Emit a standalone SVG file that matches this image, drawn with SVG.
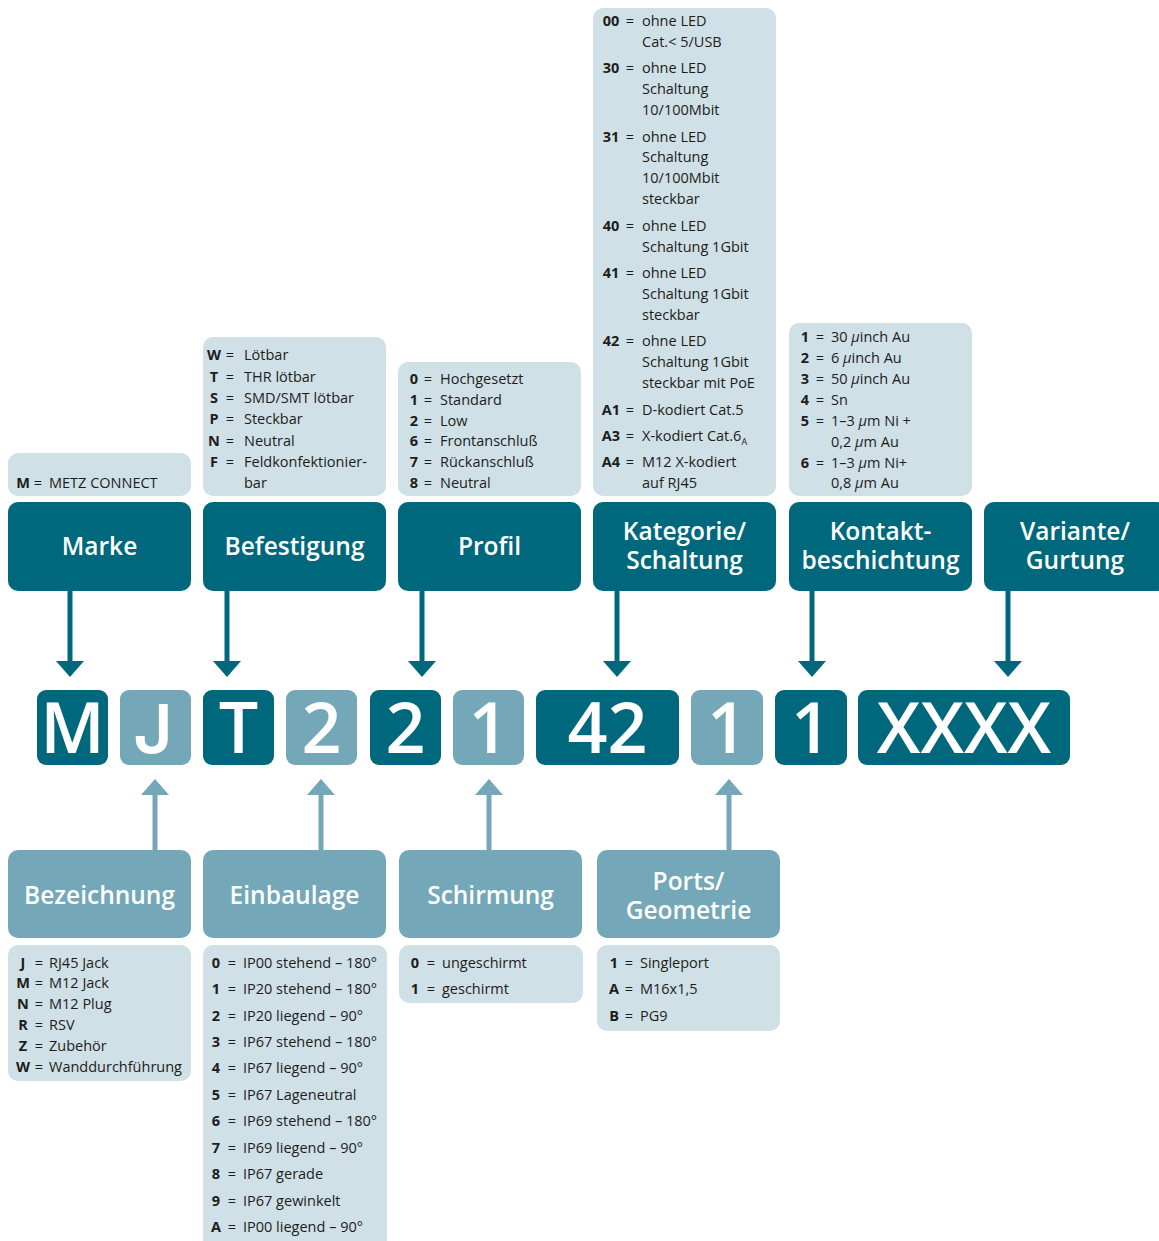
<svg xmlns="http://www.w3.org/2000/svg" width="1159" height="1241" viewBox="0 0 1159 1241">
<defs>
<style>
.dk{fill:#00687c}
.lt{fill:#74a7b8}
.bg{fill:#cfe0e6}
.hd{font-family:"Open Sans","Noto Sans",sans-serif;font-weight:600;font-size:24.5px;fill:#fff;text-anchor:middle}
.cd{font-family:"Open Sans","Noto Sans",sans-serif;font-weight:600;font-size:70px;fill:#fff;text-anchor:middle}
.t{font-family:"Open Sans","Noto Sans",sans-serif;font-size:14.5px;fill:#1d1d1b}
.k{font-weight:700;text-anchor:middle}
.e{text-anchor:middle}
.ad{stroke:#00687c;stroke-width:5;fill:none}
.al{stroke:#74a7b8;stroke-width:5;fill:none}
.i{font-style:italic}
</style>
</defs>
<rect width="1159" height="1241" fill="#fff"/>

<g id="connectors">
<line class="ad" x1="70" y1="591" x2="70" y2="664"/><polygon class="dk" points="56,661 84,661 70,677"/>
<line class="ad" x1="227" y1="591" x2="227" y2="664"/><polygon class="dk" points="213,661 241,661 227,677"/>
<line class="ad" x1="422" y1="591" x2="422" y2="664"/><polygon class="dk" points="408,661 436,661 422,677"/>
<line class="ad" x1="617" y1="591" x2="617" y2="664"/><polygon class="dk" points="603,661 631,661 617,677"/>
<line class="ad" x1="812" y1="591" x2="812" y2="664"/><polygon class="dk" points="798,661 826,661 812,677"/>
<line class="ad" x1="1008" y1="591" x2="1008" y2="664"/><polygon class="dk" points="994,661 1022,661 1008,677"/>
<line class="al" x1="155" y1="850" x2="155" y2="792"/><polygon class="lt" points="141,795 169,795 155,779"/>
<line class="al" x1="321" y1="850" x2="321" y2="792"/><polygon class="lt" points="307,795 335,795 321,779"/>
<line class="al" x1="489" y1="850" x2="489" y2="792"/><polygon class="lt" points="475,795 503,795 489,779"/>
<line class="al" x1="729" y1="850" x2="729" y2="792"/><polygon class="lt" points="715,795 743,795 729,779"/>
</g>

<g id="marke">
<rect class="bg" x="8" y="453" width="183" height="43" rx="10"/>
<text class="t" y="488"><tspan class="k" x="23">M</tspan><tspan class="e" x="38">=</tspan><tspan x="49">METZ CONNECT</tspan></text>
<rect class="dk" x="8" y="502" width="183" height="89" rx="10"/>
<text class="hd" x="99.5" y="555">Marke</text>
</g>

<g id="befestigung">
<rect class="bg" x="203" y="337" width="183" height="159" rx="10"/>
<g class="t">
<text y="360"><tspan class="k" x="214">W</tspan><tspan class="e" x="230">=</tspan><tspan x="244">Lötbar</tspan></text>
<text y="382"><tspan class="k" x="214">T</tspan><tspan class="e" x="230">=</tspan><tspan x="244">THR lötbar</tspan></text>
<text y="403"><tspan class="k" x="214">S</tspan><tspan class="e" x="230">=</tspan><tspan x="244">SMD/SMT lötbar</tspan></text>
<text y="424"><tspan class="k" x="214">P</tspan><tspan class="e" x="230">=</tspan><tspan x="244">Steckbar</tspan></text>
<text y="446"><tspan class="k" x="214">N</tspan><tspan class="e" x="230">=</tspan><tspan x="244">Neutral</tspan></text>
<text y="467"><tspan class="k" x="214">F</tspan><tspan class="e" x="230">=</tspan><tspan x="244">Feldkonfektionier-</tspan></text>
<text y="488"><tspan x="244">bar</tspan></text>
</g>
<rect class="dk" x="203" y="502" width="183" height="89" rx="10"/>
<text class="hd" x="294.5" y="555">Befestigung</text>
</g>

<g id="profil">
<rect class="bg" x="398" y="362" width="183" height="134" rx="10"/>
<g class="t">
<text y="384"><tspan class="k" x="414">0</tspan><tspan class="e" x="428">=</tspan><tspan x="440">Hochgesetzt</tspan></text>
<text y="405"><tspan class="k" x="414">1</tspan><tspan class="e" x="428">=</tspan><tspan x="440">Standard</tspan></text>
<text y="426"><tspan class="k" x="414">2</tspan><tspan class="e" x="428">=</tspan><tspan x="440">Low</tspan></text>
<text y="446"><tspan class="k" x="414">6</tspan><tspan class="e" x="428">=</tspan><tspan x="440">Frontanschluß</tspan></text>
<text y="467"><tspan class="k" x="414">7</tspan><tspan class="e" x="428">=</tspan><tspan x="440">Rückanschluß</tspan></text>
<text y="488"><tspan class="k" x="414">8</tspan><tspan class="e" x="428">=</tspan><tspan x="440">Neutral</tspan></text>
</g>
<rect class="dk" x="398" y="502" width="183" height="89" rx="10"/>
<text class="hd" x="489.5" y="555">Profil</text>
</g>

<g id="kategorie">
<rect class="bg" x="593" y="8" width="183" height="488" rx="10"/>
<g class="t">
<text y="26"><tspan class="k" x="611">00</tspan><tspan class="e" x="630">=</tspan><tspan x="642">ohne LED</tspan></text>
<text y="47"><tspan x="642">Cat.&lt; 5/USB</tspan></text>
<text y="73"><tspan class="k" x="611">30</tspan><tspan class="e" x="630">=</tspan><tspan x="642">ohne LED</tspan></text>
<text y="94"><tspan x="642">Schaltung</tspan></text>
<text y="115"><tspan x="642">10/100Mbit</tspan></text>
<text y="142"><tspan class="k" x="611">31</tspan><tspan class="e" x="630">=</tspan><tspan x="642">ohne LED</tspan></text>
<text y="162"><tspan x="642">Schaltung</tspan></text>
<text y="183"><tspan x="642">10/100Mbit</tspan></text>
<text y="204"><tspan x="642">steckbar</tspan></text>
<text y="231"><tspan class="k" x="611">40</tspan><tspan class="e" x="630">=</tspan><tspan x="642">ohne LED</tspan></text>
<text y="252"><tspan x="642">Schaltung 1Gbit</tspan></text>
<text y="278"><tspan class="k" x="611">41</tspan><tspan class="e" x="630">=</tspan><tspan x="642">ohne LED</tspan></text>
<text y="299"><tspan x="642">Schaltung 1Gbit</tspan></text>
<text y="320"><tspan x="642">steckbar</tspan></text>
<text y="346"><tspan class="k" x="611">42</tspan><tspan class="e" x="630">=</tspan><tspan x="642">ohne LED</tspan></text>
<text y="367"><tspan x="642">Schaltung 1Gbit</tspan></text>
<text y="388"><tspan x="642">steckbar mit PoE</tspan></text>
<text y="415"><tspan class="k" x="611">A1</tspan><tspan class="e" x="630">=</tspan><tspan x="642">D-kodiert Cat.5</tspan></text>
<text y="441"><tspan class="k" x="611">A3</tspan><tspan class="e" x="630">=</tspan><tspan x="642">X-kodiert Cat.6</tspan><tspan dy="4" font-size="9">A</tspan></text>
<text y="467"><tspan class="k" x="611">A4</tspan><tspan class="e" x="630">=</tspan><tspan x="642">M12 X-kodiert</tspan></text>
<text y="488"><tspan x="642">auf RJ45</tspan></text>
</g>
<rect class="dk" x="593" y="502" width="183" height="89" rx="10"/>
<text class="hd"><tspan x="684.5" y="540">Kategorie/</tspan><tspan x="684.5" y="569">Schaltung</tspan></text>
</g>

<g id="kontakt">
<rect class="bg" x="789" y="323" width="183" height="173" rx="10"/>
<g class="t">
<text y="342"><tspan class="k" x="805">1</tspan><tspan class="e" x="820">=</tspan><tspan x="831">30 <tspan class="i">μ</tspan>inch Au</tspan></text>
<text y="363"><tspan class="k" x="805">2</tspan><tspan class="e" x="820">=</tspan><tspan x="831">6 <tspan class="i">μ</tspan>inch Au</tspan></text>
<text y="384"><tspan class="k" x="805">3</tspan><tspan class="e" x="820">=</tspan><tspan x="831">50 <tspan class="i">μ</tspan>inch Au</tspan></text>
<text y="405"><tspan class="k" x="805">4</tspan><tspan class="e" x="820">=</tspan><tspan x="831">Sn</tspan></text>
<text y="426"><tspan class="k" x="805">5</tspan><tspan class="e" x="820">=</tspan><tspan x="831">1–3 <tspan class="i">μ</tspan>m Ni +</tspan></text>
<text y="447"><tspan x="831">0,2 <tspan class="i">μ</tspan>m Au</tspan></text>
<text y="468"><tspan class="k" x="805">6</tspan><tspan class="e" x="820">=</tspan><tspan x="831">1–3 <tspan class="i">μ</tspan>m Ni+</tspan></text>
<text y="488"><tspan x="831">0,8 <tspan class="i">μ</tspan>m Au</tspan></text>
</g>
<rect class="dk" x="789" y="502" width="183" height="89" rx="10"/>
<text class="hd"><tspan x="880.5" y="540">Kontakt-</tspan><tspan x="880.5" y="569">beschichtung</tspan></text>
</g>

<g id="variante">
<rect class="dk" x="984" y="502" width="183" height="89" rx="10"/>
<text class="hd"><tspan x="1075" y="540">Variante/</tspan><tspan x="1075" y="569">Gurtung</tspan></text>
</g>

<g id="code">
<rect class="dk" x="37" y="690" width="71" height="75" rx="9"/><text class="cd" x="72.5" y="753">M</text>
<rect class="lt" x="120" y="690" width="71" height="75" rx="9"/><text class="cd" x="153" y="753" style="font-family:Inter,'Open Sans',sans-serif;font-size:68px">J</text>
<rect class="dk" x="203" y="690" width="71" height="75" rx="9"/><text class="cd" x="238.5" y="753">T</text>
<rect class="lt" x="286" y="690" width="71" height="75" rx="9"/><text class="cd" x="321.5" y="753">2</text>
<rect class="dk" x="370" y="690" width="71" height="75" rx="9"/><text class="cd" x="405.5" y="753">2</text>
<rect class="lt" x="453" y="690" width="71" height="75" rx="9"/><text class="cd" x="488.5" y="753">1</text>
<rect class="dk" x="536" y="690" width="143" height="75" rx="9"/><text class="cd" x="607.5" y="753">42</text>
<rect class="lt" x="691" y="690" width="72" height="75" rx="9"/><text class="cd" x="727" y="753">1</text>
<rect class="dk" x="775" y="690" width="72" height="75" rx="9"/><text class="cd" x="811" y="753">1</text>
<rect class="dk" x="858" y="690" width="212" height="75" rx="9"/><text class="cd" x="964" y="753">XXXX</text>
</g>

<g id="bezeichnung">
<rect class="lt" x="8" y="850" width="183" height="88" rx="10"/>
<text class="hd" x="99.5" y="904">Bezeichnung</text>
<rect class="bg" x="8" y="945" width="183" height="136" rx="10"/>
<g class="t">
<text y="968"><tspan class="k" x="23">J</tspan><tspan class="e" x="39">=</tspan><tspan x="49">RJ45 Jack</tspan></text>
<text y="988"><tspan class="k" x="23">M</tspan><tspan class="e" x="39">=</tspan><tspan x="49">M12 Jack</tspan></text>
<text y="1009"><tspan class="k" x="23">N</tspan><tspan class="e" x="39">=</tspan><tspan x="49">M12 Plug</tspan></text>
<text y="1030"><tspan class="k" x="23">R</tspan><tspan class="e" x="39">=</tspan><tspan x="49">RSV</tspan></text>
<text y="1051"><tspan class="k" x="23">Z</tspan><tspan class="e" x="39">=</tspan><tspan x="49">Zubehör</tspan></text>
<text y="1072"><tspan class="k" x="23">W</tspan><tspan class="e" x="39">=</tspan><tspan x="49">Wanddurchführung</tspan></text>
</g>
</g>

<g id="einbaulage">
<rect class="lt" x="203" y="850" width="183" height="88" rx="10"/>
<text class="hd" x="294.5" y="904">Einbaulage</text>
<rect class="bg" x="203" y="945" width="184" height="306" rx="10"/>
<g class="t">
<text y="968"><tspan class="k" x="216">0</tspan><tspan class="e" x="232">=</tspan><tspan x="243">IP00 stehend – 180°</tspan></text>
<text y="994"><tspan class="k" x="216">1</tspan><tspan class="e" x="232">=</tspan><tspan x="243">IP20 stehend – 180°</tspan></text>
<text y="1021"><tspan class="k" x="216">2</tspan><tspan class="e" x="232">=</tspan><tspan x="243">IP20 liegend – 90°</tspan></text>
<text y="1047"><tspan class="k" x="216">3</tspan><tspan class="e" x="232">=</tspan><tspan x="243">IP67 stehend – 180°</tspan></text>
<text y="1073"><tspan class="k" x="216">4</tspan><tspan class="e" x="232">=</tspan><tspan x="243">IP67 liegend – 90°</tspan></text>
<text y="1100"><tspan class="k" x="216">5</tspan><tspan class="e" x="232">=</tspan><tspan x="243">IP67 Lageneutral</tspan></text>
<text y="1126"><tspan class="k" x="216">6</tspan><tspan class="e" x="232">=</tspan><tspan x="243">IP69 stehend – 180°</tspan></text>
<text y="1153"><tspan class="k" x="216">7</tspan><tspan class="e" x="232">=</tspan><tspan x="243">IP69 liegend – 90°</tspan></text>
<text y="1179"><tspan class="k" x="216">8</tspan><tspan class="e" x="232">=</tspan><tspan x="243">IP67 gerade</tspan></text>
<text y="1206"><tspan class="k" x="216">9</tspan><tspan class="e" x="232">=</tspan><tspan x="243">IP67 gewinkelt</tspan></text>
<text y="1232"><tspan class="k" x="216">A</tspan><tspan class="e" x="232">=</tspan><tspan x="243">IP00 liegend – 90°</tspan></text>
</g>
</g>

<g id="schirmung">
<rect class="lt" x="399" y="850" width="183" height="88" rx="10"/>
<text class="hd" x="490.5" y="904">Schirmung</text>
<rect class="bg" x="399" y="945" width="184" height="58" rx="10"/>
<g class="t">
<text y="968"><tspan class="k" x="415">0</tspan><tspan class="e" x="431">=</tspan><tspan x="442">ungeschirmt</tspan></text>
<text y="994"><tspan class="k" x="415">1</tspan><tspan class="e" x="431">=</tspan><tspan x="442">geschirmt</tspan></text>
</g>
</g>

<g id="ports">
<rect class="lt" x="597" y="850" width="183" height="88" rx="10"/>
<text class="hd"><tspan x="688.5" y="890">Ports/</tspan><tspan x="688.5" y="919">Geometrie</tspan></text>
<rect class="bg" x="597" y="945" width="183" height="86" rx="10"/>
<g class="t">
<text y="968"><tspan class="k" x="614">1</tspan><tspan class="e" x="629">=</tspan><tspan x="640">Singleport</tspan></text>
<text y="994"><tspan class="k" x="614">A</tspan><tspan class="e" x="629">=</tspan><tspan x="640">M16x1,5</tspan></text>
<text y="1021"><tspan class="k" x="614">B</tspan><tspan class="e" x="629">=</tspan><tspan x="640">PG9</tspan></text>
</g>
</g>
</svg>
